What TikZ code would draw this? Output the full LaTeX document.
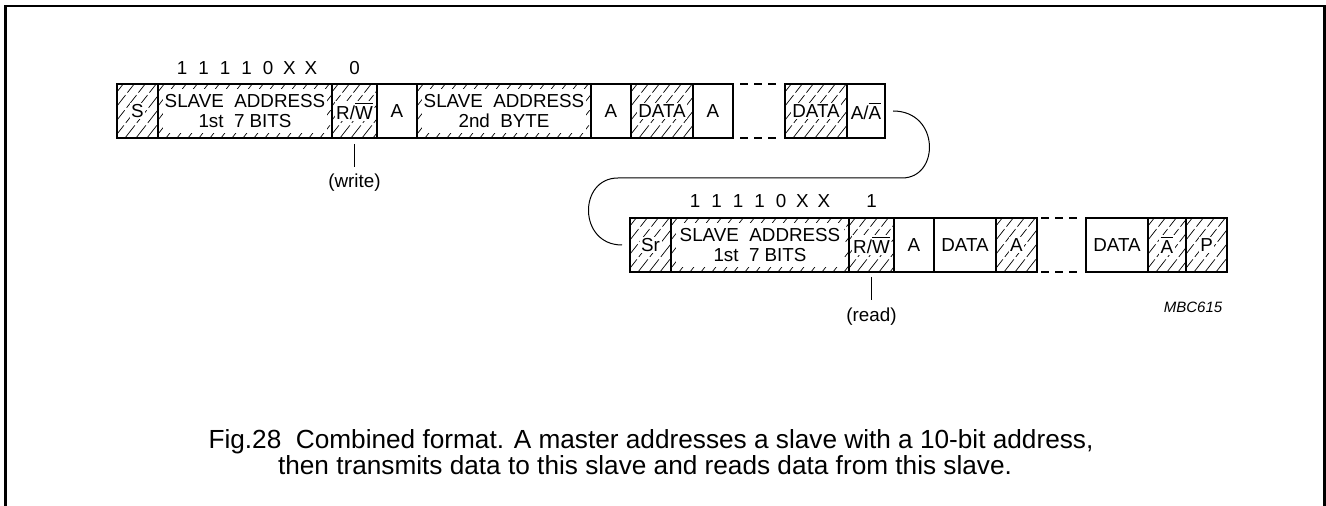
\documentclass[tikz,border=0pt]{standalone}
\usepackage{fontspec}
\setmainfont{Liberation Sans}
\usetikzlibrary{positioning}

\newcommand\fieldfont{\fontsize{9.4}{9.8}\selectfont}
\newcommand\onwhite[1]{{\setlength\fboxsep{0.8pt}\colorbox{white}{#1}}}
\newcommand\hatchlines{\foreach \k in {-40,-34.5,...,95} \draw[hatchline] ([xshift=\k pt]path picture bounding box.south west) -- ++(52:60pt);}

\tikzset{
    field/.style={draw, line width=0.75pt, minimum height=27pt, inner sep=0pt, outer sep=0pt, font=\fieldfont, align=center},
    hatchline/.style={line width=0.35pt, dash pattern=on 8pt off 1.6pt},
    hatched/.style={path picture={\hatchlines}},
    rimhatched/.style={path picture={\hatchlines
        \fill[white] ([shift={(2.5pt,-2.5pt)}]path picture bounding box.north west) rectangle ([shift={(-2.5pt,2.5pt)}]path picture bounding box.south east);}},
    gapline/.style={line width=0.75pt, dash pattern=on 4pt off 3pt},
    bit/.style={font=\fieldfont, inner sep=0pt},
    note/.style={font=\fieldfont, inner sep=0pt},
    link/.style={line width=0.5pt}
}

\begin{document}
\begin{tikzpicture}[x=0.5pt, y=-0.5pt]
        \useasboundingbox (0,0) rectangle (1326,506);
        \draw[line width=1.2pt] (5.5,506) -- (5.5,6) -- (1324.5,6) -- (1324.5,506); % frame, open at the bottom

        % first transfer: write
        \node[field, hatched, minimum width=20.5pt] (S) at (137.5,111) {\onwhite{S}};
        \node[field, rimhatched, minimum width=87pt, right=0pt of S] (SA1) {SLAVE~~ADDRESS\\1st~~7 BITS};
        \node[field, hatched, minimum width=22.5pt, right=0pt of SA1] (RW1) {\onwhite{R/$\overline{\mbox{W}}$}};
        \node[field, minimum width=20pt, right=0pt of RW1] (A1) {A};
        \node[field, rimhatched, minimum width=87pt, right=0pt of A1] (SA2) {SLAVE~~ADDRESS\\2nd~~BYTE};
        \node[field, minimum width=20pt, right=0pt of SA2] (A2) {A};
        \node[field, hatched, minimum width=31pt, right=0pt of A2] (D1) {\onwhite{DATA}};
        \node[field, minimum width=20pt, right=0pt of D1] (A3) {A};
        \node[field, hatched, minimum width=31pt, right=26pt of A3] (D2) {\onwhite{DATA}};
        \node[field, minimum width=19pt, right=0pt of D2] (AA) {A/$\overline{\mbox{A}}$};

        \draw[gapline] ([xshift=3.5pt]A3.north east) -- ([xshift=-4pt]D2.north west); % dashed gap
        \draw[gapline] ([xshift=3.5pt]A3.south east) -- ([xshift=-4pt]D2.south west);

        \foreach \b [count=\i] in {1,1,1,1,0,X,X}
            \node[bit] (hi\i) at (160.5+21.5*\i,68) {\b};
        \node[bit] (hirw) at (RW1.north |- hi1) {0};

        \node[note] (wr) at (354.5,183) {(write)};
        \draw[link, shorten <=3pt, shorten >=3.5pt] (RW1.south) -- (wr.north);

        % second transfer: read
        \node[field, hatched, minimum width=20.5pt] (Sr) at (650.5,245) {\onwhite{Sr}};
        \node[field, rimhatched, minimum width=89pt, right=0pt of Sr] (SA3) {SLAVE~~ADDRESS\\1st~~7 BITS};
        \node[field, hatched, minimum width=22.5pt, right=0pt of SA3] (RW2) {\onwhite{R/$\overline{\mbox{W}}$}};
        \node[field, minimum width=20pt, right=0pt of RW2] (A4) {A};
        \node[field, minimum width=31pt, right=0pt of A4] (D3) {DATA};
        \node[field, hatched, minimum width=20.5pt, right=0pt of D3] (A5) {\onwhite{A}};
        \node[field, minimum width=31pt, right=24.5pt of A5] (D4) {DATA};
        \node[field, hatched, minimum width=19pt, right=0pt of D4] (NA) {\onwhite{$\overline{\mbox{A}}$}};
        \node[field, hatched, minimum width=20.5pt, right=0pt of NA] (P) {\onwhite{P}};

        \draw[gapline] ([xshift=2pt]A5.north east) -- ([xshift=-3.5pt]D4.north west); % dashed gap
        \draw[gapline] ([xshift=2pt]A5.south east) -- ([xshift=-3.5pt]D4.south west);

        \foreach \b [count=\i] in {1,1,1,1,0,X,X}
            \node[bit] (lo\i) at (673.5+21.5*\i,201) {\b};
        \node[bit] (lorw) at (RW2.north |- lo1) {1};

        \node[note] (rd) at (871.5,317) {(read)};
        \draw[link, shorten <=2.5pt, shorten >=4pt] (RW2.south) -- (rd.north);

        % repeated start: from the end of the write to Sr
        \coordinate (bendR) at (902,178);
        \coordinate (bendL) at (618,178);
        \draw[link] ([xshift=4pt]AA.east) .. controls +(47,0) and +(38,0) .. (bendR) -- (bendL)
            .. controls +(-40,0) and +(-44,0) .. ([xshift=-4pt]Sr.west);

        \node[font=\fontsize{7.5}{9}\selectfont\itshape, inner sep=0pt] (code) at (1193,307) {MBC615};

        % caption
        \node[font=\fontsize{13.1}{13}\selectfont, anchor=base, inner sep=0pt] (cap1) at (651,449)
            {Fig.28~~Combined format. A master addresses a slave with a 10-bit address,};
        \node[font=\fontsize{13.1}{13}\selectfont, anchor=base, inner sep=0pt] (cap2) at (645,475)
            {then transmits data to this slave and reads data from this slave.};
    \end{tikzpicture}
\end{document}
